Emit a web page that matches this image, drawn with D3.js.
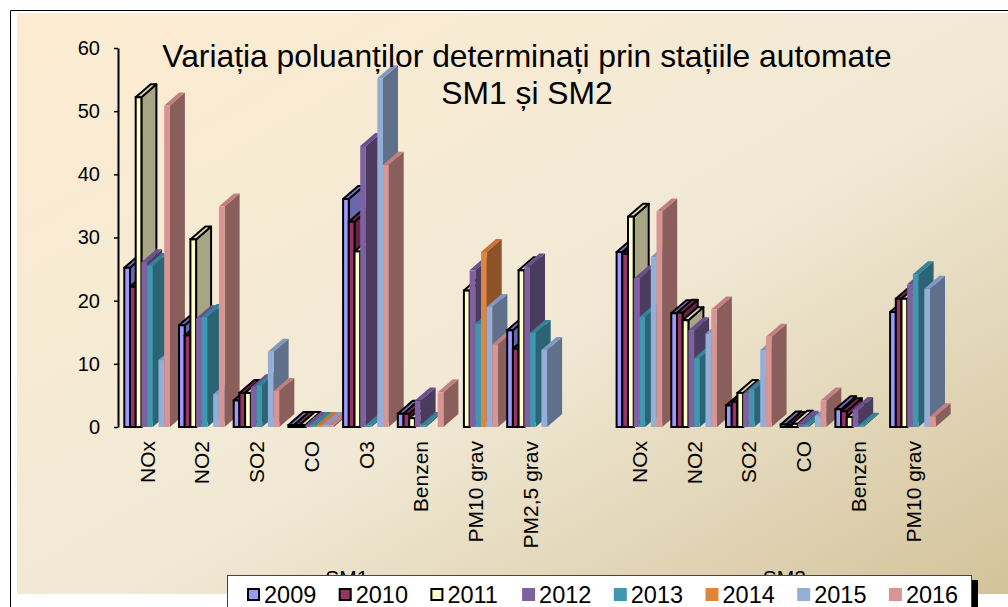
<!DOCTYPE html>
<html lang="ro">
<head>
<meta charset="UTF-8">
<title>Variația poluanților</title>
<script src="https://d3js.org/d3.v7.min.js"></script>
<style>
    body { margin: 0; background: #fff; }
    svg text { font-family: "Liberation Sans", Arial, sans-serif; fill: #000; }
</style>
</head>
<body>
<div id="chart"></div>
<script>
    // categories of the two stations (a blank slot separates them)
    const categoriesSM1 = ["NOx", "NO2", "SO2", "CO", "O3", "Benzen", "PM10 grav", "PM2,5 grav"];
    const categoriesSM2 = ["NOx", "NO2", "SO2", "CO", "Benzen", "PM10 grav"];
    const years = ["2009", "2010", "2011", "2012", "2013", "2014", "2015", "2016"];

    // values: 8 SM1 categories followed by 6 SM2 categories (null = no bar)
    const v2009 = [25.2, 16.1, 4.2, 0.3, 36.1, 2.1, null, 15.3,   27.7, 18.0, 3.4, 0.4, 2.8, 18.2];
    const v2010 = [22.2, 14.5, 5.4, 0.3, 32.5, 2.1, null, 12.4,   27.4, 18.1, 4.0, 0.3, 2.5, 20.3];
    const v2011 = [52.2, 29.7, 5.4, 0.3, 27.8, 1.4, 21.6, 24.8,   33.3, 16.9, 5.4, 0.5, 1.6, 20.3];
    const v2012 = [26.1, 17.2, 6.3, 0.3, 44.5, 4.2, 24.8, 25.4,   23.5, 15.3, 5.3, 0.5, 2.7, 22.6];
    const v2013 = [25.5, 17.4, 6.6, 0.3, 0.3, 0.3, 16.4, 14.9,    17.4, 10.9, 5.9, 0.3, 0.2, 24.2];
    const v2014 = [null, null, null, 0.3, null, null, 27.7, null, null, null, null, null, null, null];
    const v2015 = [10.6, 5.2, 11.9, 0.3, 55.2, null, 19.0, 12.2,  26.9, 14.8, 12.2, 1.8, null, 21.9];
    const v2016 = [50.9, 34.9, 5.7, 0.3, 41.5, 5.5, 13.1, null,   34.1, 18.6, 14.3, 4.2, null, 1.7];
    const yTicks = [0, 10, 20, 30, 40, 50, 60];

    const seriesValues = [v2009, v2010, v2011, v2012, v2013, v2014, v2015, v2016];

    // front / top / side colours, outlined = black border like the first three series
    const styles = [
        { front: "#9999ff", top: "#7272c6", side: "#6767ad", outlined: true },
        { front: "#993366", top: "#7c2a52", side: "#662345", outlined: true },
        { front: "#ffffcc", top: "#d9d8b2", side: "#a8a585", outlined: true },
        { front: "#7f60a0", top: "#6b5090", side: "#4a3b5f", outlined: false },
        { front: "#3f98ae", top: "#348398", side: "#2b6474", outlined: false },
        { front: "#e0853c", top: "#c97232", side: "#8c5228", outlined: false },
        { front: "#95aed8", top: "#8098c2", side: "#5f708b", outlined: false },
        { front: "#d99594", top: "#c27f7e", side: "#8a5e5b", outlined: false }
    ];

    const W = 1008, H = 607;
    const depthX = 15, depthY = -13;

    const svg = d3.select("#chart").append("svg")
        .attr("width", W)
        .attr("height", H);

    const defs = svg.append("defs");
    const grad = defs.append("linearGradient")
        .attr("id", "bg")
        .attr("x1", 0).attr("y1", 0).attr("x2", 1).attr("y2", 1);
    grad.append("stop").attr("offset", "0%").attr("stop-color", "#fdecd2");
    grad.append("stop").attr("offset", "55%").attr("stop-color", "#f1e9d5");
    grad.append("stop").attr("offset", "100%").attr("stop-color", "#d3c39b");

    // chart frame
    svg.append("rect")
        .attr("x", 17).attr("y", 13)
        .attr("width", W - 17).attr("height", 581)
        .attr("fill", "url(#bg)");
    svg.append("path")
        .attr("d", `M10.5,${H} V10.5 H${W}`)
        .attr("fill", "none")
        .attr("stroke", "#000")
        .attr("stroke-width", 1);

    // slots: SM1 categories, one blank, SM2 categories
    const slots = categoriesSM1.map((c, i) => ({ key: "SM1-" + i, label: c, idx: i }))
        .concat([{ key: "gap", label: "", idx: null }])
        .concat(categoriesSM2.map((c, i) => ({ key: "SM2-" + i, label: c, idx: categoriesSM1.length + i })));

    const x = d3.scaleBand()
        .domain(slots.map(d => d.key))
        .range([118, 118 + slots.length * 54.7]);

    const xInner = d3.scaleBand()
        .domain(years)
        .range([6.3, 6.3 + years.length * 5.7]);

    const y = d3.scaleLinear()
        .domain([0, 60])
        .range([427, 48]);

    // bars
    const bars = [];
    slots.forEach(s => {
        if (s.idx === null) return;
        years.forEach((yr, j) => {
            const v = seriesValues[j][s.idx];
            if (v === null) return;
            bars.push({ slot: s.key, year: yr, j: j, value: v });
        });
    });

    const gBars = svg.append("g");
    bars.forEach(b => {
        const st = styles[b.j];
        const x0 = x(b.slot) + xInner(b.year);
        const w = xInner.bandwidth();
        const yt = y(b.value), yb = y(0);
        const g = gBars.append("g");
        const strokeC = st.outlined ? "#000" : "none";
        const sw = st.outlined ? 2 : 0;
        g.append("path")
            .attr("d", `M${x0 + w},${yb} L${x0 + w + depthX},${yb + depthY} L${x0 + w + depthX},${yt + depthY} L${x0 + w},${yt} Z`)
            .attr("fill", st.side)
            .attr("stroke", strokeC).attr("stroke-width", sw).attr("stroke-linejoin", "round");
        g.append("path")
            .attr("d", `M${x0},${yt} L${x0 + depthX},${yt + depthY} L${x0 + w + depthX},${yt + depthY} L${x0 + w},${yt} Z`)
            .attr("fill", st.top)
            .attr("stroke", strokeC).attr("stroke-width", sw).attr("stroke-linejoin", "round");
        g.append("rect")
            .attr("x", x0).attr("y", yt)
            .attr("width", w).attr("height", Math.max(0, yb - yt))
            .attr("fill", st.front)
            .attr("stroke", strokeC).attr("stroke-width", sw);
    });

    // y axis
    const yAxis = svg.append("g")
        .attr("transform", "translate(118,0)")
        .call(d3.axisLeft(y).tickValues(yTicks).tickSizeInner(4).tickSizeOuter(0).tickPadding(14));
    yAxis.select(".domain").attr("stroke", "#000").attr("stroke-width", 2);
    yAxis.selectAll(".tick line").attr("stroke", "#000").attr("stroke-width", 1.5);
    yAxis.selectAll(".tick text")
        .style("font-size", "20px")
        .attr("font-family", null);

    // category labels
    svg.append("g").selectAll("text")
        .data(slots.filter(s => s.idx !== null))
        .join("text")
        .attr("transform", d => `translate(${x(d.key) + x.bandwidth() / 2 + 2},441) rotate(-90)`)
        .attr("text-anchor", "end")
        .attr("dy", "0.35em")
        .style("font-size", "21px")
        .text(d => d.label);

    // station labels
    const sm1Mid = (x("SM1-0") + x("SM1-7") + x.bandwidth()) / 2;
    const sm2Mid = (x("SM2-0") + x("SM2-5") + x.bandwidth()) / 2;
    svg.append("g").selectAll("text")
        .data([["SM1", sm1Mid + 10], ["SM2", sm2Mid + 10]])
        .join("text")
        .attr("x", d => d[1])
        .attr("y", 585)
        .attr("text-anchor", "middle")
        .style("font-size", "21px")
        .text(d => d[0]);

    // title
    const title = svg.append("text")
        .attr("text-anchor", "middle")
        .style("font-size", "31.8px");
    title.append("tspan").attr("x", 527).attr("y", 67).text("Variația poluanților determinați prin stațiile automate");
    title.append("tspan").attr("x", 527).attr("y", 104).text("SM1 și SM2");

    // legend
    svg.append("rect")
        .attr("x", 972).attr("y", 580).attr("width", 6).attr("height", 30)
        .attr("fill", "#000");
    svg.append("rect")
        .attr("x", 227.5).attr("y", 575.5).attr("width", 744).attr("height", 40)
        .attr("fill", "#fff").attr("stroke", "#444").attr("stroke-width", 1);

    const legend = svg.append("g").selectAll("g")
        .data(years)
        .join("g")
        .attr("transform", (d, i) => `translate(${247 + i * 91.7},0)`);
    legend.append("rect")
        .attr("x", (d, i) => styles[i].outlined ? 1 : 0)
        .attr("y", (d, i) => styles[i].outlined ? 589 : 588)
        .attr("width", (d, i) => styles[i].outlined ? 11 : 13)
        .attr("height", (d, i) => styles[i].outlined ? 11 : 13)
        .attr("fill", (d, i) => styles[i].front)
        .attr("stroke", (d, i) => styles[i].outlined ? "#000" : "none")
        .attr("stroke-width", 2);
    legend.append("text")
        .attr("x", 17)
        .attr("y", 603)
        .style("font-size", "23.5px")
        .text(d => d);
</script>
</body>
</html>
